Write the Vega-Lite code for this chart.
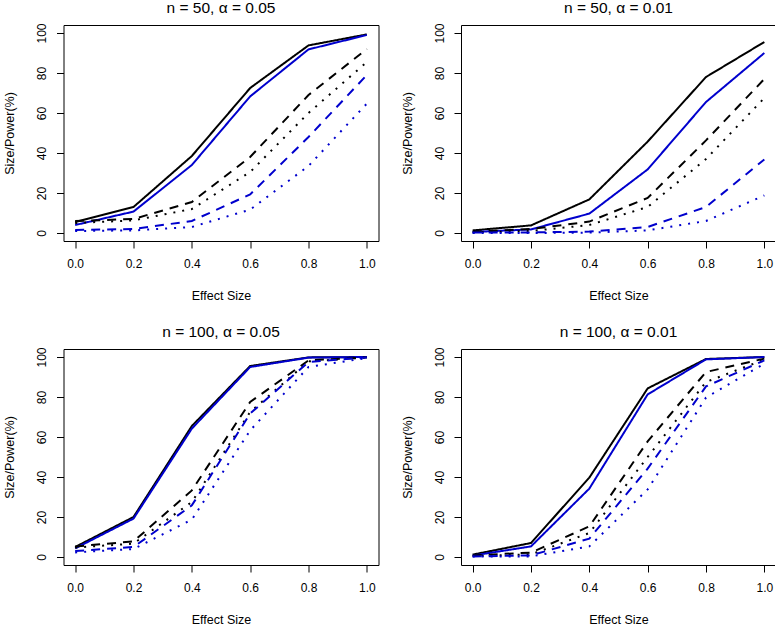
{
  "$schema": "https://vega.github.io/schema/vega-lite/v6.json",
  "background": "white",
  "padding": {"left": 2.5, "top": 0, "right": 0, "bottom": 0},
  "bounds": "flush",
  "columns": 2,
  "spacing": {"row": 108, "column": 82.5},
  "config": {
    "font": "Liberation Sans",
    "view": {"stroke": "#000000", "strokeWidth": 1},
    "title": {"fontSize": 15.5, "fontWeight": "normal", "color": "#000000", "offset": 6, "font": "Liberation Sans"},
    "axis": {
      "domain": false, "grid": false, "tickColor": "#000000", "tickSize": 7, "tickWidth": 1,
      "labelFontSize": 12, "labelColor": "#000000", "labelFont": "Liberation Sans",
      "titleFontSize": 12.5, "titleFontWeight": "normal", "titleColor": "#000000", "titleFont": "Liberation Sans"
    },
    "line": {"strokeWidth": 2, "strokeCap": "butt"}
  },
  "datasets": {
    "power": [
      {"p":1,"x":0,"y":5.5,"c":"black","l":"solid"},{"p":1,"x":0.2,"y":13,"c":"black","l":"solid"},{"p":1,"x":0.4,"y":38.5,"c":"black","l":"solid"},{"p":1,"x":0.6,"y":72.5,"c":"black","l":"solid"},{"p":1,"x":0.8,"y":93.8,"c":"black","l":"solid"},{"p":1,"x":1,"y":99.3,"c":"black","l":"solid"},
      {"p":1,"x":0,"y":4,"c":"blue","l":"solid"},{"p":1,"x":0.2,"y":10.7,"c":"blue","l":"solid"},{"p":1,"x":0.4,"y":34,"c":"blue","l":"solid"},{"p":1,"x":0.6,"y":68.3,"c":"blue","l":"solid"},{"p":1,"x":0.8,"y":91.8,"c":"blue","l":"solid"},{"p":1,"x":1,"y":99,"c":"blue","l":"solid"},
      {"p":1,"x":0,"y":6,"c":"black","l":"dashed"},{"p":1,"x":0.2,"y":7,"c":"black","l":"dashed"},{"p":1,"x":0.4,"y":15.5,"c":"black","l":"dashed"},{"p":1,"x":0.6,"y":38,"c":"black","l":"dashed"},{"p":1,"x":0.8,"y":69,"c":"black","l":"dashed"},{"p":1,"x":1,"y":92,"c":"black","l":"dashed"},
      {"p":1,"x":0,"y":5,"c":"black","l":"dotted"},{"p":1,"x":0.2,"y":6.3,"c":"black","l":"dotted"},{"p":1,"x":0.4,"y":12,"c":"black","l":"dotted"},{"p":1,"x":0.6,"y":30.5,"c":"black","l":"dotted"},{"p":1,"x":0.8,"y":60,"c":"black","l":"dotted"},{"p":1,"x":1,"y":85.5,"c":"black","l":"dotted"},
      {"p":1,"x":0,"y":1.5,"c":"blue","l":"dashed"},{"p":1,"x":0.2,"y":2,"c":"blue","l":"dashed"},{"p":1,"x":0.4,"y":6,"c":"blue","l":"dashed"},{"p":1,"x":0.6,"y":19.3,"c":"blue","l":"dashed"},{"p":1,"x":0.8,"y":48,"c":"blue","l":"dashed"},{"p":1,"x":1,"y":79,"c":"blue","l":"dashed"},
      {"p":1,"x":0,"y":1,"c":"blue","l":"dotted"},{"p":1,"x":0.2,"y":1.3,"c":"blue","l":"dotted"},{"p":1,"x":0.4,"y":3,"c":"blue","l":"dotted"},{"p":1,"x":0.6,"y":11.7,"c":"blue","l":"dotted"},{"p":1,"x":0.8,"y":33.5,"c":"blue","l":"dotted"},{"p":1,"x":1,"y":64.7,"c":"blue","l":"dotted"},

      {"p":2,"x":0,"y":1.3,"c":"black","l":"solid"},{"p":2,"x":0.2,"y":3.8,"c":"black","l":"solid"},{"p":2,"x":0.4,"y":16.8,"c":"black","l":"solid"},{"p":2,"x":0.6,"y":45.7,"c":"black","l":"solid"},{"p":2,"x":0.8,"y":78,"c":"black","l":"solid"},{"p":2,"x":1,"y":95.5,"c":"black","l":"solid"},
      {"p":2,"x":0,"y":0.5,"c":"blue","l":"solid"},{"p":2,"x":0.2,"y":1.8,"c":"blue","l":"solid"},{"p":2,"x":0.4,"y":9.7,"c":"blue","l":"solid"},{"p":2,"x":0.6,"y":31.8,"c":"blue","l":"solid"},{"p":2,"x":0.8,"y":65.5,"c":"blue","l":"solid"},{"p":2,"x":1,"y":90,"c":"blue","l":"solid"},
      {"p":2,"x":0,"y":0.7,"c":"black","l":"dashed"},{"p":2,"x":0.2,"y":2,"c":"black","l":"dashed"},{"p":2,"x":0.4,"y":5.7,"c":"black","l":"dashed"},{"p":2,"x":0.6,"y":17.5,"c":"black","l":"dashed"},{"p":2,"x":0.8,"y":46.3,"c":"black","l":"dashed"},{"p":2,"x":1,"y":77,"c":"black","l":"dashed"},
      {"p":2,"x":0,"y":0.3,"c":"black","l":"dotted"},{"p":2,"x":0.2,"y":1,"c":"black","l":"dotted"},{"p":2,"x":0.4,"y":4,"c":"black","l":"dotted"},{"p":2,"x":0.6,"y":13,"c":"black","l":"dotted"},{"p":2,"x":0.8,"y":37,"c":"black","l":"dotted"},{"p":2,"x":1,"y":67.5,"c":"black","l":"dotted"},
      {"p":2,"x":0,"y":0.2,"c":"blue","l":"dashed"},{"p":2,"x":0.2,"y":0.3,"c":"blue","l":"dashed"},{"p":2,"x":0.4,"y":0.7,"c":"blue","l":"dashed"},{"p":2,"x":0.6,"y":3,"c":"blue","l":"dashed"},{"p":2,"x":0.8,"y":13,"c":"blue","l":"dashed"},{"p":2,"x":1,"y":36.8,"c":"blue","l":"dashed"},
      {"p":2,"x":0,"y":0,"c":"blue","l":"dotted"},{"p":2,"x":0.2,"y":0,"c":"blue","l":"dotted"},{"p":2,"x":0.4,"y":0.2,"c":"blue","l":"dotted"},{"p":2,"x":0.6,"y":1.3,"c":"blue","l":"dotted"},{"p":2,"x":0.8,"y":6,"c":"blue","l":"dotted"},{"p":2,"x":1,"y":18.8,"c":"blue","l":"dotted"},

      {"p":3,"x":0,"y":5,"c":"black","l":"solid"},{"p":3,"x":0.2,"y":20,"c":"black","l":"solid"},{"p":3,"x":0.4,"y":65.5,"c":"black","l":"solid"},{"p":3,"x":0.6,"y":95.5,"c":"black","l":"solid"},{"p":3,"x":0.8,"y":99.8,"c":"black","l":"solid"},{"p":3,"x":1,"y":100,"c":"black","l":"solid"},
      {"p":3,"x":0,"y":4.3,"c":"blue","l":"solid"},{"p":3,"x":0.2,"y":19.2,"c":"blue","l":"solid"},{"p":3,"x":0.4,"y":64.2,"c":"blue","l":"solid"},{"p":3,"x":0.6,"y":95,"c":"blue","l":"solid"},{"p":3,"x":0.8,"y":99.7,"c":"blue","l":"solid"},{"p":3,"x":1,"y":100,"c":"blue","l":"solid"},
      {"p":3,"x":0,"y":5.3,"c":"black","l":"dashed"},{"p":3,"x":0.2,"y":7.8,"c":"black","l":"dashed"},{"p":3,"x":0.4,"y":33.3,"c":"black","l":"dashed"},{"p":3,"x":0.6,"y":77.5,"c":"black","l":"dashed"},{"p":3,"x":0.8,"y":98.3,"c":"black","l":"dashed"},{"p":3,"x":1,"y":99.8,"c":"black","l":"dashed"},
      {"p":3,"x":0,"y":4.7,"c":"black","l":"dotted"},{"p":3,"x":0.2,"y":6.7,"c":"black","l":"dotted"},{"p":3,"x":0.4,"y":27.5,"c":"black","l":"dotted"},{"p":3,"x":0.6,"y":72.5,"c":"black","l":"dotted"},{"p":3,"x":0.8,"y":97.8,"c":"black","l":"dotted"},{"p":3,"x":1,"y":99.8,"c":"black","l":"dotted"},
      {"p":3,"x":0,"y":3,"c":"blue","l":"dashed"},{"p":3,"x":0.2,"y":5,"c":"blue","l":"dashed"},{"p":3,"x":0.4,"y":25.8,"c":"blue","l":"dashed"},{"p":3,"x":0.6,"y":71.7,"c":"blue","l":"dashed"},{"p":3,"x":0.8,"y":97.5,"c":"blue","l":"dashed"},{"p":3,"x":1,"y":99.8,"c":"blue","l":"dashed"},
      {"p":3,"x":0,"y":2.3,"c":"blue","l":"dotted"},{"p":3,"x":0.2,"y":4,"c":"blue","l":"dotted"},{"p":3,"x":0.4,"y":18.7,"c":"blue","l":"dotted"},{"p":3,"x":0.6,"y":63.3,"c":"blue","l":"dotted"},{"p":3,"x":0.8,"y":95,"c":"blue","l":"dotted"},{"p":3,"x":1,"y":99.5,"c":"blue","l":"dotted"},

      {"p":4,"x":0,"y":1.2,"c":"black","l":"solid"},{"p":4,"x":0.2,"y":7,"c":"black","l":"solid"},{"p":4,"x":0.4,"y":39.7,"c":"black","l":"solid"},{"p":4,"x":0.6,"y":84.3,"c":"black","l":"solid"},{"p":4,"x":0.8,"y":99,"c":"black","l":"solid"},{"p":4,"x":1,"y":100,"c":"black","l":"solid"},
      {"p":4,"x":0,"y":0.7,"c":"blue","l":"solid"},{"p":4,"x":0.2,"y":5.3,"c":"blue","l":"solid"},{"p":4,"x":0.4,"y":34.2,"c":"blue","l":"solid"},{"p":4,"x":0.6,"y":81.3,"c":"blue","l":"solid"},{"p":4,"x":0.8,"y":98.8,"c":"blue","l":"solid"},{"p":4,"x":1,"y":100,"c":"blue","l":"solid"},
      {"p":4,"x":0,"y":0.8,"c":"black","l":"dashed"},{"p":4,"x":0.2,"y":2.2,"c":"black","l":"dashed"},{"p":4,"x":0.4,"y":15.3,"c":"black","l":"dashed"},{"p":4,"x":0.6,"y":57.8,"c":"black","l":"dashed"},{"p":4,"x":0.8,"y":92.5,"c":"black","l":"dashed"},{"p":4,"x":1,"y":99.2,"c":"black","l":"dashed"},
      {"p":4,"x":0,"y":0.5,"c":"black","l":"dotted"},{"p":4,"x":0.2,"y":1.3,"c":"black","l":"dotted"},{"p":4,"x":0.4,"y":12,"c":"black","l":"dotted"},{"p":4,"x":0.6,"y":50,"c":"black","l":"dotted"},{"p":4,"x":0.8,"y":87.5,"c":"black","l":"dotted"},{"p":4,"x":1,"y":98.7,"c":"black","l":"dotted"},
      {"p":4,"x":0,"y":0.3,"c":"blue","l":"dashed"},{"p":4,"x":0.2,"y":0.8,"c":"blue","l":"dashed"},{"p":4,"x":0.4,"y":9.2,"c":"blue","l":"dashed"},{"p":4,"x":0.6,"y":44.2,"c":"blue","l":"dashed"},{"p":4,"x":0.8,"y":85.3,"c":"blue","l":"dashed"},{"p":4,"x":1,"y":98.3,"c":"blue","l":"dashed"},
      {"p":4,"x":0,"y":0.2,"c":"blue","l":"dotted"},{"p":4,"x":0.2,"y":0.3,"c":"blue","l":"dotted"},{"p":4,"x":0.4,"y":5.3,"c":"blue","l":"dotted"},{"p":4,"x":0.6,"y":33.8,"c":"blue","l":"dotted"},{"p":4,"x":0.8,"y":79.7,"c":"blue","l":"dotted"},{"p":4,"x":1,"y":96.7,"c":"blue","l":"dotted"}
    ]
  },
  "concat": [
    {
      "title": {"text": "n = 50, α = 0.05", "fontSize": 15.5, "fontWeight": "normal", "font": "Liberation Sans", "color": "#000000", "offset": 6},
      "width": 315, "height": 216,
      "data": {"name": "power"},
      "transform": [{"filter": "datum.p == 1"}],
      "mark": {"type": "line", "clip": true},
      "encoding": {
        "x": {"field": "x", "type": "quantitative", "scale": {"domain": [-0.04, 1.04], "nice": false, "zero": false},
              "axis": {"values": [0, 0.2, 0.4, 0.6, 0.8, 1], "format": ".1f", "title": "Effect Size", "labelPadding": 10, "titlePadding": 20, "labelFlush": false, "labelFontSize": 12, "titleFontSize": 12.5, "titleFontWeight": "normal", "labelFont": "Liberation Sans", "titleFont": "Liberation Sans", "labelColor": "#000000", "titleColor": "#000000", "domain": false, "grid": false, "tickSize": 7, "tickColor": "#000000"}},
        "y": {"field": "y", "type": "quantitative", "scale": {"domain": [-4, 104], "nice": false, "zero": false},
              "axis": {"values": [0, 20, 40, 60, 80, 100], "labelAngle": -90, "title": "Size/Power(%)", "labelPadding": 8, "titlePadding": 19, "labelFlush": false, "labelFontSize": 12, "titleFontSize": 12.5, "titleFontWeight": "normal", "labelFont": "Liberation Sans", "titleFont": "Liberation Sans", "labelColor": "#000000", "titleColor": "#000000", "domain": false, "grid": false, "tickSize": 7, "tickColor": "#000000"}},
        "color": {"field": "c", "type": "nominal", "scale": {"domain": ["black", "blue"], "range": ["#000000", "#0000CD"]}, "legend": null},
        "strokeDash": {"field": "l", "type": "nominal", "scale": {"domain": ["solid", "dashed", "dotted"], "range": [[1, 0], [9, 7], [2, 7]]}, "legend": null},
        "detail": {"field": "l"}
      }
    },
    {
      "title": {"text": "n = 50, α = 0.01", "fontSize": 15.5, "fontWeight": "normal", "font": "Liberation Sans", "color": "#000000", "offset": 6},
      "width": 315, "height": 216,
      "data": {"name": "power"},
      "transform": [{"filter": "datum.p == 2"}],
      "mark": {"type": "line", "clip": true},
      "encoding": {
        "x": {"field": "x", "type": "quantitative", "scale": {"domain": [-0.04, 1.04], "nice": false, "zero": false},
              "axis": {"values": [0, 0.2, 0.4, 0.6, 0.8, 1], "format": ".1f", "title": "Effect Size", "labelPadding": 10, "titlePadding": 20, "labelFlush": false, "labelFontSize": 12, "titleFontSize": 12.5, "titleFontWeight": "normal", "labelFont": "Liberation Sans", "titleFont": "Liberation Sans", "labelColor": "#000000", "titleColor": "#000000", "domain": false, "grid": false, "tickSize": 7, "tickColor": "#000000"}},
        "y": {"field": "y", "type": "quantitative", "scale": {"domain": [-4, 104], "nice": false, "zero": false},
              "axis": {"values": [0, 20, 40, 60, 80, 100], "labelAngle": -90, "title": "Size/Power(%)", "labelPadding": 8, "titlePadding": 19, "labelFlush": false, "labelFontSize": 12, "titleFontSize": 12.5, "titleFontWeight": "normal", "labelFont": "Liberation Sans", "titleFont": "Liberation Sans", "labelColor": "#000000", "titleColor": "#000000", "domain": false, "grid": false, "tickSize": 7, "tickColor": "#000000"}},
        "color": {"field": "c", "type": "nominal", "scale": {"domain": ["black", "blue"], "range": ["#000000", "#0000CD"]}, "legend": null},
        "strokeDash": {"field": "l", "type": "nominal", "scale": {"domain": ["solid", "dashed", "dotted"], "range": [[1, 0], [9, 7], [2, 7]]}, "legend": null},
        "detail": {"field": "l"}
      }
    },
    {
      "title": {"text": "n = 100, α = 0.05", "fontSize": 15.5, "fontWeight": "normal", "font": "Liberation Sans", "color": "#000000", "offset": 6},
      "width": 315, "height": 216,
      "data": {"name": "power"},
      "transform": [{"filter": "datum.p == 3"}],
      "mark": {"type": "line", "clip": true},
      "encoding": {
        "x": {"field": "x", "type": "quantitative", "scale": {"domain": [-0.04, 1.04], "nice": false, "zero": false},
              "axis": {"values": [0, 0.2, 0.4, 0.6, 0.8, 1], "format": ".1f", "title": "Effect Size", "labelPadding": 10, "titlePadding": 20, "labelFlush": false, "labelFontSize": 12, "titleFontSize": 12.5, "titleFontWeight": "normal", "labelFont": "Liberation Sans", "titleFont": "Liberation Sans", "labelColor": "#000000", "titleColor": "#000000", "domain": false, "grid": false, "tickSize": 7, "tickColor": "#000000"}},
        "y": {"field": "y", "type": "quantitative", "scale": {"domain": [-4, 104], "nice": false, "zero": false},
              "axis": {"values": [0, 20, 40, 60, 80, 100], "labelAngle": -90, "title": "Size/Power(%)", "labelPadding": 8, "titlePadding": 19, "labelFlush": false, "labelFontSize": 12, "titleFontSize": 12.5, "titleFontWeight": "normal", "labelFont": "Liberation Sans", "titleFont": "Liberation Sans", "labelColor": "#000000", "titleColor": "#000000", "domain": false, "grid": false, "tickSize": 7, "tickColor": "#000000"}},
        "color": {"field": "c", "type": "nominal", "scale": {"domain": ["black", "blue"], "range": ["#000000", "#0000CD"]}, "legend": null},
        "strokeDash": {"field": "l", "type": "nominal", "scale": {"domain": ["solid", "dashed", "dotted"], "range": [[1, 0], [9, 7], [2, 7]]}, "legend": null},
        "detail": {"field": "l"}
      }
    },
    {
      "title": {"text": "n = 100, α = 0.01", "fontSize": 15.5, "fontWeight": "normal", "font": "Liberation Sans", "color": "#000000", "offset": 6},
      "width": 315, "height": 216,
      "data": {"name": "power"},
      "transform": [{"filter": "datum.p == 4"}],
      "mark": {"type": "line", "clip": true},
      "encoding": {
        "x": {"field": "x", "type": "quantitative", "scale": {"domain": [-0.04, 1.04], "nice": false, "zero": false},
              "axis": {"values": [0, 0.2, 0.4, 0.6, 0.8, 1], "format": ".1f", "title": "Effect Size", "labelPadding": 10, "titlePadding": 20, "labelFlush": false, "labelFontSize": 12, "titleFontSize": 12.5, "titleFontWeight": "normal", "labelFont": "Liberation Sans", "titleFont": "Liberation Sans", "labelColor": "#000000", "titleColor": "#000000", "domain": false, "grid": false, "tickSize": 7, "tickColor": "#000000"}},
        "y": {"field": "y", "type": "quantitative", "scale": {"domain": [-4, 104], "nice": false, "zero": false},
              "axis": {"values": [0, 20, 40, 60, 80, 100], "labelAngle": -90, "title": "Size/Power(%)", "labelPadding": 8, "titlePadding": 19, "labelFlush": false, "labelFontSize": 12, "titleFontSize": 12.5, "titleFontWeight": "normal", "labelFont": "Liberation Sans", "titleFont": "Liberation Sans", "labelColor": "#000000", "titleColor": "#000000", "domain": false, "grid": false, "tickSize": 7, "tickColor": "#000000"}},
        "color": {"field": "c", "type": "nominal", "scale": {"domain": ["black", "blue"], "range": ["#000000", "#0000CD"]}, "legend": null},
        "strokeDash": {"field": "l", "type": "nominal", "scale": {"domain": ["solid", "dashed", "dotted"], "range": [[1, 0], [9, 7], [2, 7]]}, "legend": null},
        "detail": {"field": "l"}
      }
    }
  ],
  "resolve": {"scale": {"color": "shared", "strokeDash": "shared"}}
}
